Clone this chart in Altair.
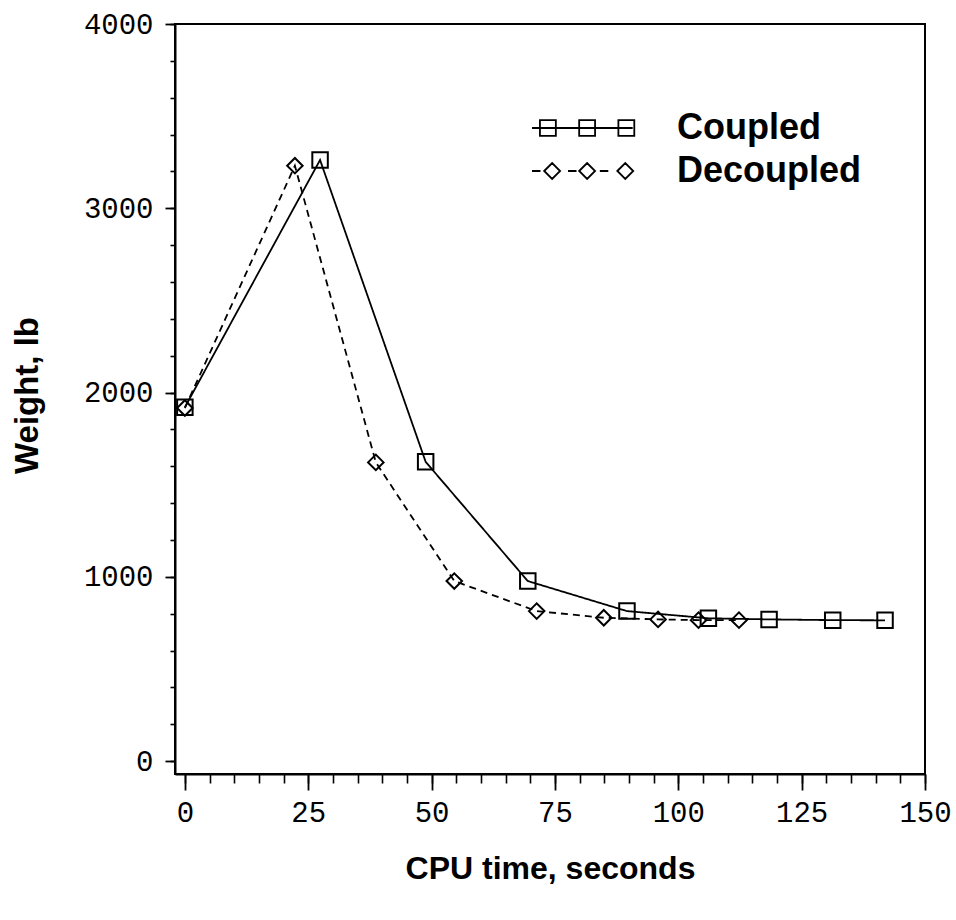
import altair as alt
import pandas as pd

# ---- data ----
series_names = ["Coupled", "Decoupled"]
coupled_x = [0, 27.4, 48.8, 69.5, 89.6, 106.1, 118.4, 131.3, 141.9]
coupled_y = [1920, 3262, 1624, 977, 814, 775, 769, 765, 764]
decoupled_x = [0, 22.3, 38.7, 54.6, 71.3, 84.9, 95.9, 104.1, 112.3]
decoupled_y = [1916, 3231, 1621, 977, 814, 778, 769, 765, 765]

x_major = [0, 25, 50, 75, 100, 125, 150]
x_minor = list(range(0, 151, 5))
y_major = [0, 1000, 2000, 3000, 4000]
y_minor = list(range(0, 4001, 200))

df = pd.DataFrame({
    "x": coupled_x + decoupled_x,
    "y": coupled_y + decoupled_y,
    "series": [series_names[0]] * len(coupled_x) + [series_names[1]] * len(decoupled_x),
})

# ---- styles ----
TICK_FONT = "Liberation Mono"
TITLE_FONT = "Liberation Sans"
xs = alt.Scale(domain=[-2, 150], nice=False, zero=False)
ys = alt.Scale(domain=[-70, 4000], nice=False, zero=False)


def sq(cx, h):
    return f"M{cx-h:.3f},{-h:.3f}H{cx+h:.3f}V{h:.3f}H{cx-h:.3f}Z"


def dia(cx, h):
    return f"M{cx-h:.3f},0L{cx:.3f},{-h:.3f}L{cx+h:.3f},0L{cx:.3f},{h:.3f}Z"


# legend key glyphs (line sample with three markers), unit box [-1, 1]
path_coupled = "M-1,0H0.9 " + " ".join(sq(c, 0.15) for c in (-0.7, 0.04, 0.78))
path_decoupled = ("M-1,0H-0.84 M-0.32,0H-0.16 M0.28,0H0.44 "
                  + " ".join(dia(c, 0.15) for c in (-0.62, 0.04, 0.76)))
legend_paths = [path_coupled, path_decoupled]
legend_row_y = [104, 147]       # px from top of plot area
legend_key_x = 410              # px, centre of key glyph
legend_text_x = 502             # px, start of label

major_x_axis = alt.Axis(
    values=x_major, format="d", orient="bottom", tickSize=16, tickWidth=1.8,
    tickColor="black", domainColor="black", domainWidth=2,
    labelFont=TICK_FONT, labelFontSize=29, labelColor="black", labelPadding=8,
    labelFlush=False, labelOverlap=False, grid=False,
    title="CPU time, seconds", titleFont=TITLE_FONT, titleFontWeight="bold",
    titleFontSize=32, titleColor="black", titleBaseline="alphabetic", titleY=104,
)
minor_x_axis = alt.Axis(
    values=x_minor, orient="bottom", tickSize=9, tickWidth=1.6, tickColor="black",
    labels=False, domain=False, grid=False, title="",
)
major_y_axis = alt.Axis(
    values=y_major, format="d", orient="left", tickSize=10, tickWidth=1.8,
    tickColor="black", domainColor="black", domainWidth=2,
    labelFont=TICK_FONT, labelFontSize=29, labelColor="black", labelPadding=12,
    labelOverlap=False, grid=False,
    title="Weight, lb", titleFont=TITLE_FONT, titleFontWeight="bold",
    titleFontSize=33, titleColor="black", titleAngle=270, titleAlign="center",
    titleBaseline="middle", titleX=-148, titleY=371,
)
minor_y_axis = alt.Axis(
    values=y_minor, orient="left", tickSize=5, tickWidth=1.6, tickColor="black",
    labels=False, domain=False, grid=False, title="",
)

base = alt.Chart(df)

lines = base.mark_line(color="black", strokeWidth=1.8).encode(
    x=alt.X("x:Q", scale=xs, axis=major_x_axis),
    y=alt.Y("y:Q", scale=ys, axis=major_y_axis),
    strokeDash=alt.StrokeDash("series:N",
                              scale=alt.Scale(domain=series_names, range=[[1, 0], [7, 5]]),
                              legend=None),
)

squares = base.transform_filter(alt.datum.series == series_names[0]).mark_point(
    shape="square", size=240, filled=False, strokeWidth=2, color="black", opacity=1
).encode(
    x=alt.X("x:Q", scale=xs, axis=minor_x_axis),
    y=alt.Y("y:Q", scale=ys, axis=minor_y_axis),
)

diamonds = base.transform_filter(alt.datum.series == series_names[1]).mark_point(
    shape="diamond", size=240, filled=False, strokeWidth=2, color="black", opacity=1
).encode(
    x=alt.X("x:Q", scale=xs, axis=None),
    y=alt.Y("y:Q", scale=ys, axis=None),
)

legend_layers = []
for name, path, ry in zip(series_names, legend_paths, legend_row_y):
    key = alt.Chart(df).transform_filter(alt.datum.series == name).transform_aggregate(
        n="count()"
    ).mark_point(
        shape=path, size=11236, filled=False, strokeWidth=1.8, color="black", opacity=1
    ).encode(x=alt.value(legend_key_x), y=alt.value(ry))
    label = alt.Chart(df).transform_filter(alt.datum.series == name).transform_aggregate(
        n="count()"
    ).mark_text(
        text=name, font=TITLE_FONT, fontWeight="bold", fontSize=36, color="black",
        align="left", baseline="middle"
    ).encode(x=alt.value(legend_text_x), y=alt.value(ry))
    legend_layers += [key, label]

chart = alt.layer(lines, squares, diamonds, *legend_layers).resolve_axis(
    x="independent", y="independent"
).properties(
    width=750, height=750,
    autosize=alt.AutoSizeParams(type="none"),
    padding={"left": 175, "top": 24, "right": 31, "bottom": 146},
    background="white",
).configure_view(stroke="black", strokeWidth=2)

chart.save("out.html", embed_options={"renderer": "svg", "actions": False})
